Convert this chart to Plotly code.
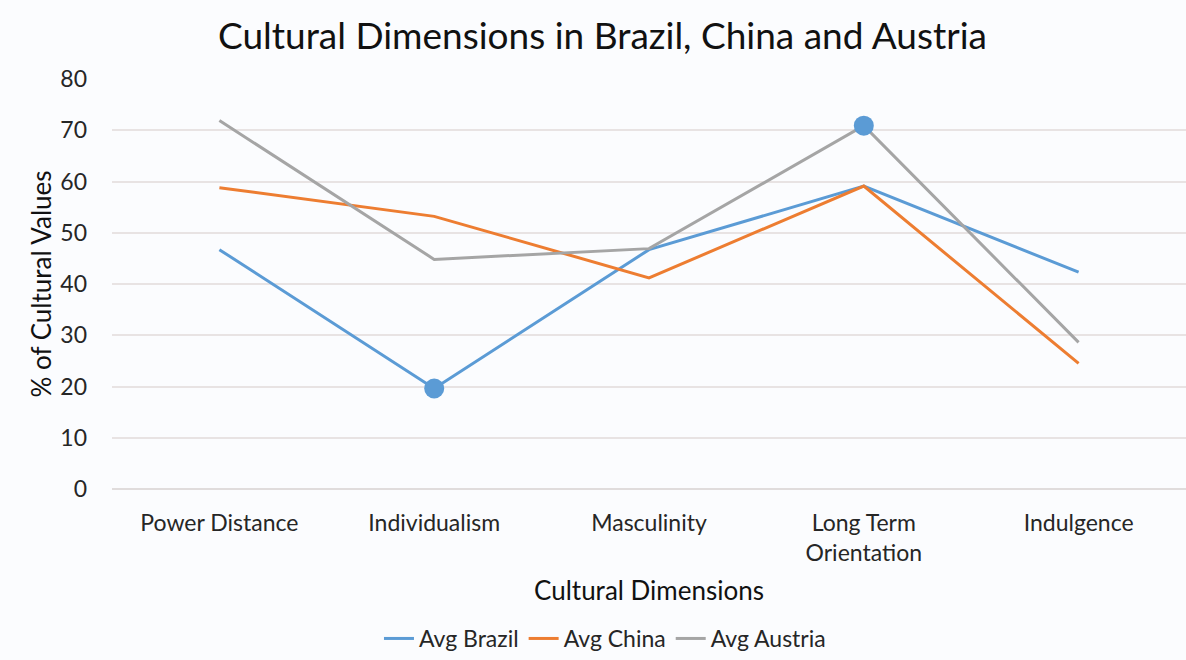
import plotly.graph_objects as go

# Hofstede dimensions and the averaged scores per country
dimensions = ["Power Distance", "Individualism", "Masculinity",
              "Long Term Orientation", "Indulgence"]
tick_labels = ["Power Distance", "Individualism", "Masculinity",
               "Long Term<br>Orientation", "Indulgence"]
brazil = [46.7, 19.6, 46.7, 59.1, 42.3]
china = [58.8, 53.2, 41.2, 59.1, 24.5]
austria = [71.9, 44.8, 46.9, 70.9, 28.6]

# points that are emphasised with a round marker: (series, dimension index)
highlights = [("brazil", 1), ("austria", 3)]

series = {
    "brazil": ("Avg Brazil", brazil, "#5B9BD5"),
    "china": ("Avg China", china, "#ED7D31"),
    "austria": ("Avg Austria", austria, "#A5A5A5"),
}

FONT = "Lato, Open Sans, sans-serif"
fig = go.Figure()

for key, (name, vals, color) in series.items():
    fig.add_trace(go.Scatter(
        x=dimensions, y=vals, name=name, mode="lines",
        line=dict(color=color, width=3),
    ))

for key, idx in highlights:
    vals = series[key][1]
    fig.add_trace(go.Scatter(
        x=[dimensions[idx]], y=[vals[idx]], mode="markers",
        marker=dict(color="#5B9BD5", size=20, line=dict(width=0)),
        showlegend=False, hoverinfo="skip",
    ))

fig.update_layout(
    width=1186, height=660,
    margin=dict(l=112, r=0, t=79, b=168),
    paper_bgcolor="#fbfcfe",
    plot_bgcolor="#fbfcfe",
    font=dict(family=FONT, color="#262626", size=23),
    title=dict(text="Cultural Dimensions in Brazil, China and Austria",
               x=0.508, xanchor="center", y=0.945, yanchor="middle",
               font=dict(size=37, color="#111111")),
    showlegend=True,
    legend=dict(orientation="h", x=0.459, xanchor="center", y=-0.365, yanchor="middle",
                font=dict(size=23, color="#262626"), itemwidth=30,
                bgcolor="rgba(0,0,0,0)"),
)

fig.update_xaxes(
    type="category", tickvals=dimensions, ticktext=tick_labels,
    showgrid=False, showline=False, zeroline=False, ticks="",
    tickfont=dict(size=23, color="#262626"), ticklabelstandoff=18,
    title=dict(text="Cultural Dimensions", font=dict(size=26, color="#111111"), standoff=16),
    range=[-0.5, 4.5],
)
fig.update_yaxes(
    range=[0, 80], dtick=10, showgrid=True, gridcolor="#e8e3e3", gridwidth=1.5,
    zeroline=True, zerolinecolor="#e0dcdc", zerolinewidth=1.5,
    ticks="", tickfont=dict(size=23, color="#262626"), ticklabelstandoff=24,
    title=dict(text="% of Cultural Values", font=dict(size=26, color="#111111"), standoff=1),
)

fig.write_html("out.html")
